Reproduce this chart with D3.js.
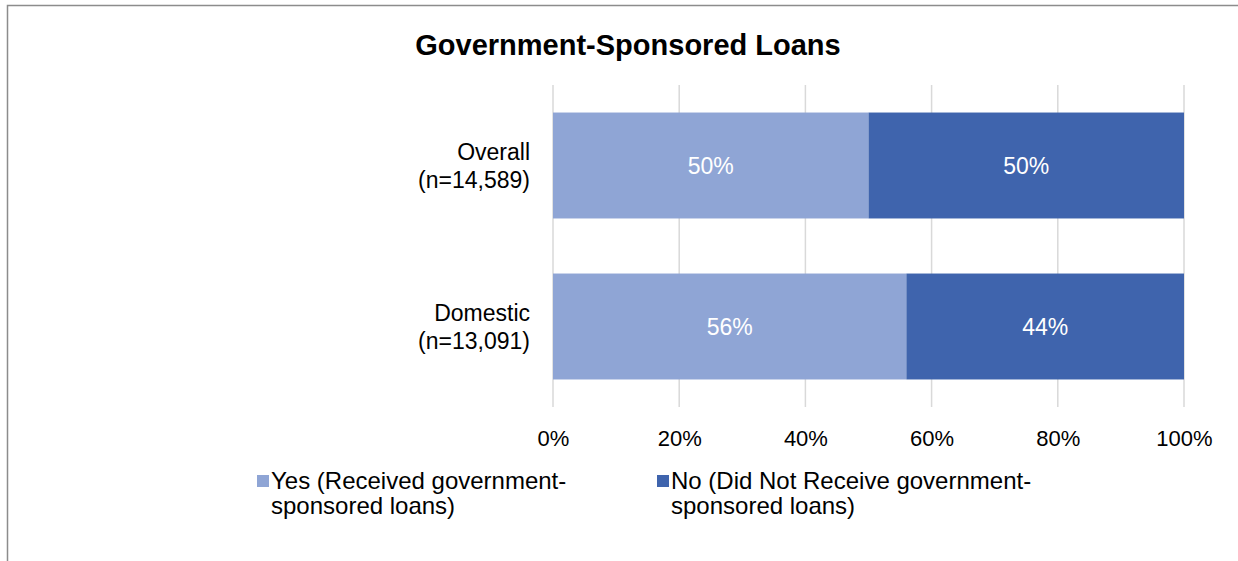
<!DOCTYPE html>
<html>
<head>
<meta charset="utf-8">
<script src="https://cdn.jsdelivr.net/npm/d3@7"></script>
<style>
  html, body { margin: 0; padding: 0; background: #fff; }
  svg { display: block; font-family: "Liberation Sans", Arial, sans-serif; }
</style>
</head>
<body>
<svg id="chart" width="1238" height="561"></svg>
<script>
// Survey groups and shares of respondents (percent)
const categories = ["Overall", "Domestic"];
const categorySamples = ["(n=14,589)", "(n=13,091)"];
const seriesNames = ["Yes (Received government-sponsored loans)", "No (Did Not Receive government-sponsored loans)"];
const legendLines = [["Yes (Received government-", "sponsored loans)"], ["No (Did Not Receive government-", "sponsored loans)"]];
const yesValues = [50, 56];
const noValues = [50, 44];
const tickValues = [0, 20, 40, 60, 80, 100];
const seriesColors = ["#8FA5D5", "#3F64AD"];

const svg = d3.select("#chart");

// Outer frame (top and left edges)
svg.append("path")
  .attr("d", "M7.5,561 V5.5 H1238")
  .attr("fill", "none")
  .attr("stroke", "#8c8c8c")
  .attr("stroke-width", 1.5);

// Title
svg.append("text")
  .attr("x", 628)
  .attr("y", 55)
  .attr("text-anchor", "middle")
  .attr("font-size", 29)
  .attr("font-weight", "bold")
  .attr("fill", "#000")
  .text("Government-Sponsored Loans");

const x = d3.scaleLinear().domain([0, 100]).range([553, 1184]);
const y = d3.scaleBand().domain(categories).range([85, 407]).paddingInner(0.342).paddingOuter(0.171);

// Vertical gridlines
svg.append("g")
  .selectAll("line")
  .data(tickValues)
  .join("line")
  .attr("x1", d => x(d))
  .attr("x2", d => x(d))
  .attr("y1", 85)
  .attr("y2", 407)
  .attr("stroke", "#d9d9d9")
  .attr("stroke-width", 1.5);

// Stacked data
const rows = categories.map((c, i) => ({ cat: c, yes: yesValues[i], no: noValues[i] }));
const stack = d3.stack().keys(["yes", "no"]);
const layers = stack(rows);

const barGroups = svg.append("g")
  .selectAll("g")
  .data(layers)
  .join("g")
  .attr("fill", (d, i) => seriesColors[i]);

barGroups.selectAll("rect")
  .data(d => d)
  .join("rect")
  .attr("x", d => x(d[0]))
  .attr("width", d => x(d[1]) - x(d[0]))
  .attr("y", d => y(d.data.cat))
  .attr("height", y.bandwidth());

// Value labels inside segments
barGroups.selectAll("text")
  .data(d => d)
  .join("text")
  .attr("x", d => (x(d[0]) + x(d[1])) / 2)
  .attr("y", d => y(d.data.cat) + y.bandwidth() / 2)
  .attr("dy", "0.35em")
  .attr("text-anchor", "middle")
  .attr("font-size", 23)
  .attr("fill", "#fff")
  .text(d => (d[1] - d[0]) + "%");

// Category axis labels (two lines)
const catLabels = svg.append("g")
  .selectAll("text")
  .data(categories)
  .join("text")
  .attr("text-anchor", "end")
  .attr("font-size", 23)
  .attr("fill", "#000");
catLabels.append("tspan")
  .attr("x", 530)
  .attr("y", d => y(d) + y.bandwidth() / 2 - 14)
  .attr("dy", "0.35em")
  .text(d => d);
catLabels.append("tspan")
  .attr("x", 530)
  .attr("y", d => y(d) + y.bandwidth() / 2 + 14)
  .attr("dy", "0.35em")
  .text((d, i) => categorySamples[i]);

// Percent axis
const xAxis = d3.axisBottom(x)
  .tickValues(tickValues)
  .tickFormat(d => d + "%")
  .tickSize(0)
  .tickPadding(0);
const axisG = svg.append("g")
  .attr("transform", "translate(0,430)")
  .call(xAxis);
axisG.select(".domain").remove();
axisG.selectAll("text")
  .attr("font-family", "\"Liberation Sans\", Arial, sans-serif")
  .attr("font-size", 22)
  .attr("fill", "#000");

// Legend
const legendX = [257, 657];
const legend = svg.append("g")
  .selectAll("g")
  .data(seriesNames)
  .join("g")
  .attr("transform", (d, i) => `translate(${legendX[i]},0)`);
legend.append("rect")
  .attr("x", 0)
  .attr("y", 475)
  .attr("width", 12)
  .attr("height", 12)
  .attr("fill", (d, i) => seriesColors[i]);
legend.append("text")
  .attr("font-size", 24)
  .attr("fill", "#000")
  .selectAll("tspan")
  .data((d, i) => legendLines[i])
  .join("tspan")
  .attr("x", 14)
  .attr("y", (d, i) => 489 + i * 25)
  .text(d => d);
</script>
</body>
</html>
